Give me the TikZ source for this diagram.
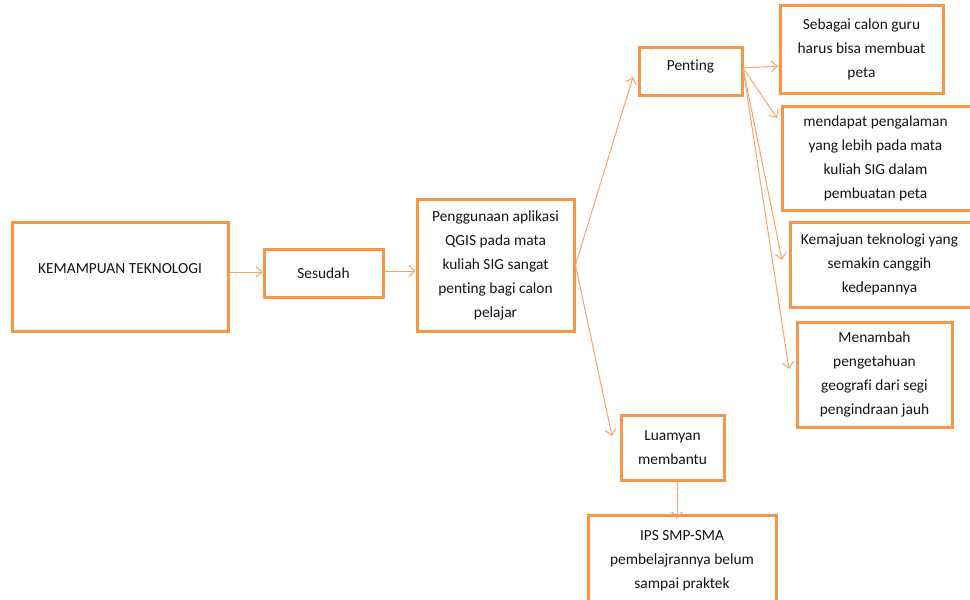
\documentclass[tikz,border=0pt]{standalone}
\usepackage{fontspec}
\setmainfont[Ligatures={NoCommon}]{Carlito}
\usetikzlibrary{arrows.meta}
\definecolor{borange}{HTML}{F79646}
\definecolor{aorange}{HTML}{F8A468}
\definecolor{txtc}{HTML}{141414}
\tikzset{
  box/.style={draw=borange, line width=3pt, rectangle, align=center, text=txtc,
    font=\fontsize{15.4pt}{24pt}\selectfont, inner sep=0pt},
  arr/.style={draw=aorange, line width=1pt, -{Straight Barb[length=6pt,width=11pt]}},
}
\begin{document}
\begin{tikzpicture}[x=1pt,y=1pt]
\useasboundingbox (0,0) rectangle (970,-600);
\clip (0,0) rectangle (970,-600);
\node[box, minimum width=216pt, minimum height=109pt,
  label={[text=txtc, font=\fontsize{15.4pt}{24pt}\selectfont, yshift=8pt]center:KEMAMPUAN TEKNOLOGI}] (kem) at (120,-276.5) {};
\node[box, minimum width=119pt, minimum height=48pt] (ses) at (323.5,-273) {Sesudah};
\node[box, minimum width=157pt, minimum height=132pt] (pgg) at (495.5,-265)
  {Penggunaan aplikasi\\QGIS pada mata\\kuliah SIG sangat\\penting bagi calon\\pelajar};
\node[box, minimum width=103pt, minimum height=48pt,
  label={[text=txtc, font=\fontsize{15.4pt}{24pt}\selectfont, yshift=4pt]center:Penting}] (pen) at (690.5,-71) {};
\node[box, minimum width=163pt, minimum height=88pt] (seb) at (861.5,-49)
  {Sebagai calon guru\\harus bisa membuat\\peta};
\node[box, minimum width=195pt, minimum height=104pt] (men) at (879.5,-158)
  {\hspace*{-8pt}mendapat pengalaman\\\hspace*{-8pt}yang lebih pada mata\\\hspace*{-8pt}kuliah SIG dalam\\\hspace*{-8pt}pembuatan peta};
\node[box, minimum width=187pt, minimum height=85pt] (kmj) at (883.5,-264.5)
  {\hspace*{-8pt}Kemajuan teknologi yang\\\hspace*{-8pt}semakin canggih\\\hspace*{-8pt}kedepannya};
\node[box, minimum width=155pt, minimum height=105pt] (mnb) at (874.5,-374.5)
  {Menambah\\pengetahuan\\geografi dari segi\\pengindraan jauh};
\node[box, minimum width=103pt, minimum height=65pt] (lua) at (672.5,-447.5)
  {Luamyan\\membantu};
\node[box, minimum width=188pt, minimum height=91pt] (ips) at (682,-560.5)
  {IPS SMP-SMA\\pembelajrannya belum\\sampai praktek};
% coordinates
\coordinate (pgo) at (pgg.east);
\coordinate (peo) at (743,-68);
\coordinate (tpen) at (633,-77);
\coordinate (tlua) at (612,-436);
\coordinate (tseb) at (778,-66);
\coordinate (tmen) at (777,-118);
\coordinate (tkmj) at (782,-260);
\coordinate (tmnb) at (789,-369);
% arrows
\draw[arr] (kem.east |- 0,-272) -- (ses.west |- 0,-272);
\draw[arr] (ses.east |- 0,-271) -- (pgg.west |- 0,-271);
\draw[arr] (pgo) -- (tpen);
\draw[arr] (pgo) -- (tlua);
\draw[arr] (peo) -- (tseb);
\draw[arr] (peo) -- (tmen);
\draw[arr] (peo) -- (tkmj);
\draw[arr] (peo) -- (tmnb);
\draw[arr] ([xshift=4.5pt]lua.south) -- ([xshift=-5pt,yshift=-5pt]ips.north);
\end{tikzpicture}
\end{document}
